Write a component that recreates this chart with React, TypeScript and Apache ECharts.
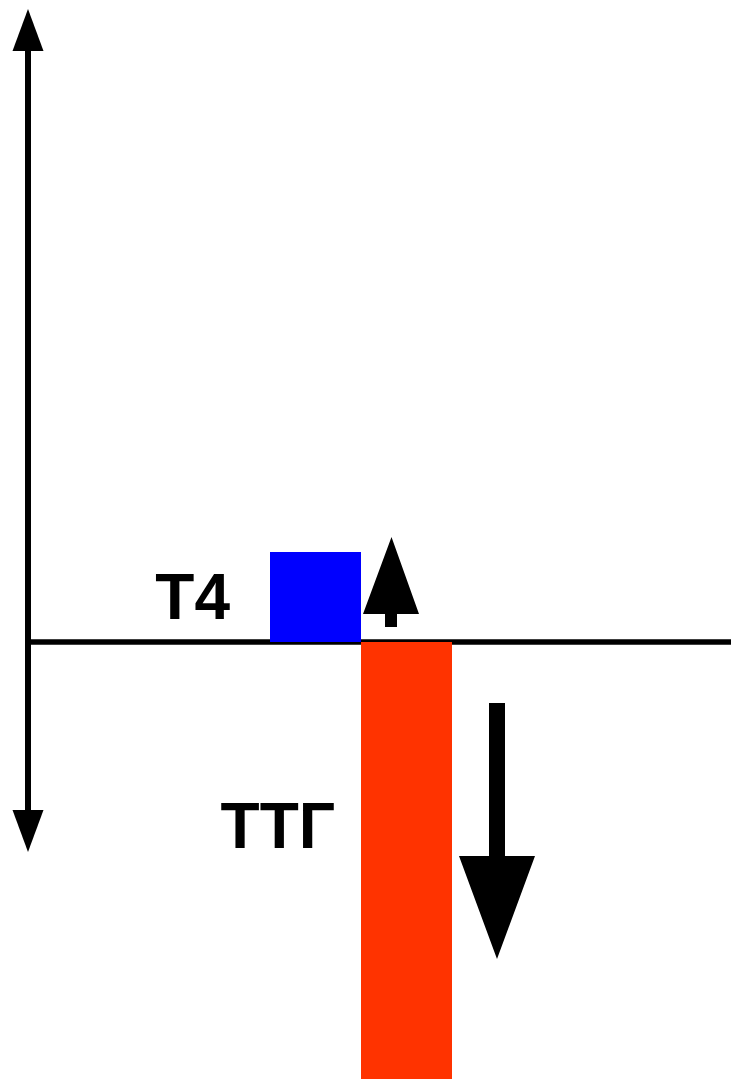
import React, { useEffect, useRef } from "react";
import * as echarts from "echarts";

// Data
const categories: string[] = ["T4", "ТТГ"];
const values: number[] = [10, -50];
const barColors: string[] = ["#0000ff", "#ff3300"];
const yMin = -21;
const yMax = 68;

// Decorative trend arrows (pixel shapes, not data)
const upArrow: number[][] = [
  [391.5, 537], [419, 614], [397, 614], [397, 627], [385, 627], [385, 614], [363, 614],
];
const downArrow: number[][] = [
  [489, 703], [505, 703], [505, 856], [535, 856], [497, 959], [459, 856], [489, 856],
];

export default function App() {
  const ref = useRef<HTMLDivElement>(null);
  useEffect(() => {
    if (!ref.current) return;
    const chart = echarts.init(ref.current, undefined, { renderer: "svg" });
    const labelFont = {
      fontFamily: "Liberation Sans, Arial, sans-serif",
      fontWeight: "bold" as const,
      fontSize: 64,
      color: "#000",
    };
    chart.setOption({
      animation: false,
      backgroundColor: "#ffffff",
      grid: [
        { left: 28, right: 0, top: 30, bottom: 248 },
        { left: 270, width: 182, top: 30, bottom: 248 },
      ],
      xAxis: [
        {
          gridIndex: 0,
          type: "category",
          data: [""],
          axisLine: { show: true, onZero: true, lineStyle: { color: "#000", width: 5.5, cap: "butt" } },
          axisTick: { show: false },
          axisLabel: { show: false },
          splitLine: { show: false },
        },
        {
          gridIndex: 1,
          type: "category",
          data: categories,
          show: false,
        },
      ],
      yAxis: [
        {
          gridIndex: 0,
          type: "value",
          min: yMin,
          max: yMax,
          axisLine: {
            show: true,
            symbol: ["triangle", "triangle"],
            symbolSize: [31, 42],
            lineStyle: { color: "#000", width: 6 },
          },
          axisTick: { show: false },
          axisLabel: { show: false },
          splitLine: { show: false },
        },
        {
          gridIndex: 1,
          type: "value",
          min: yMin,
          max: yMax,
          show: false,
        },
      ],
      series: [
        {
          type: "bar",
          xAxisIndex: 1,
          yAxisIndex: 1,
          clip: false,
          barCategoryGap: "0%",
          data: values.map((v, i) => ({
            value: v,
            itemStyle: { color: barColors[i] },
            label: {
              show: true,
              formatter: "{b}",
              position: "left",
              distance: i === 0 ? 40 : 26,
              offset: i === 0 ? [0, 0] : [0, -41.5],
              ...labelFont,
            },
          })),
        },
      ],
      graphic: [
        { type: "polygon", shape: { points: upArrow }, style: { fill: "#000" }, z: 100 },
        { type: "polygon", shape: { points: downArrow }, style: { fill: "#000" }, z: 100 },
      ],
    });
    return () => chart.dispose();
  }, []);
  return (
    <div
      ref={ref}
      style={{ position: "absolute", left: 0, top: 0, width: 731, height: 1079, background: "#fff" }}
    />
  );
}
